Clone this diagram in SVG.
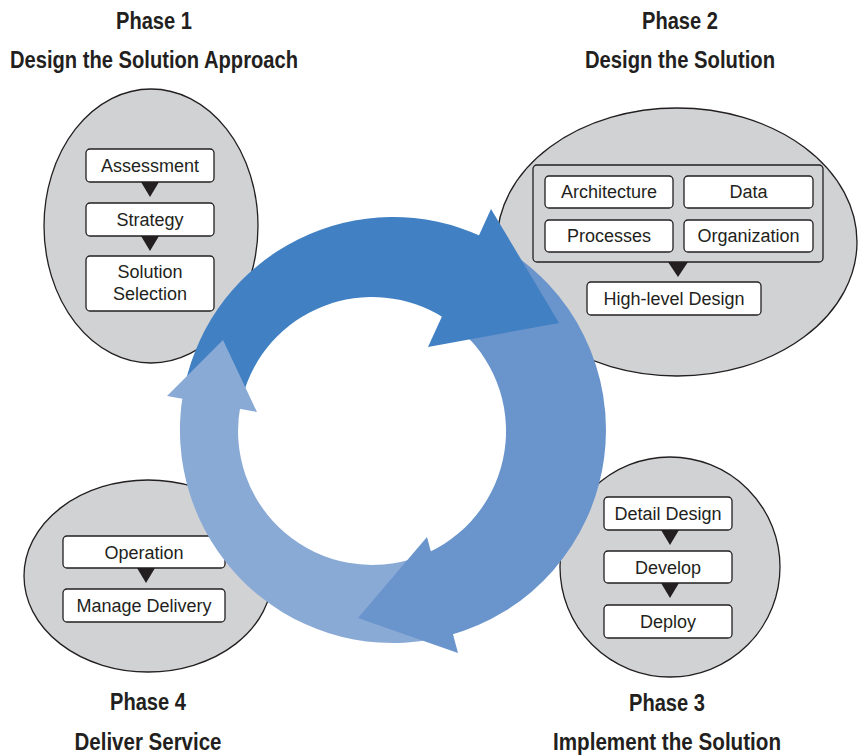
<svg xmlns="http://www.w3.org/2000/svg" width="864" height="756" viewBox="0 0 864 756">
<style>
.bg{fill:#ffffff}
.phase{fill:#D1D2D4;stroke:#231F20;stroke-width:1.3}
.box{fill:#ffffff;stroke:#231F20;stroke-width:1.3}
.grp{fill:#D1D2D4;stroke:#231F20;stroke-width:1.3}
.lbl{font-family:"Liberation Sans",Arial,sans-serif;font-size:18px;fill:#231F20;text-anchor:middle}
.ttl{font-family:"Liberation Sans",Arial,sans-serif;font-size:23px;font-weight:bold;fill:#231F20;text-anchor:middle}
.tri{fill:#231F20}
.dark{fill:#4180C2}
.mid{fill:#6A94CC}
.light{fill:#8AAAD6}
</style>
<rect class="bg" x="0" y="0" width="864" height="756"/>

<g id="phase1">
<text class="ttl" x="154" y="29" textLength="76" lengthAdjust="spacingAndGlyphs">Phase 1</text>
<text class="ttl" x="154" y="68" textLength="288" lengthAdjust="spacingAndGlyphs">Design the Solution Approach</text>
<ellipse class="phase" cx="151" cy="226" rx="107" ry="137"/>
<g id="assessment"><rect class="box" x="86" y="149" width="128" height="33" rx="4"/><text class="lbl" x="150" y="172">Assessment</text></g>
<g id="strategy"><rect class="box" x="86" y="203" width="128" height="33" rx="4"/><text class="lbl" x="150" y="226">Strategy</text></g>
<g id="solution-selection"><rect class="box" x="86" y="256" width="128" height="55" rx="4"/><text class="lbl" x="150" y="278">Solution</text><text class="lbl" x="150" y="300">Selection</text></g>
</g>

<g id="phase2">
<text class="ttl" x="680" y="29" textLength="76" lengthAdjust="spacingAndGlyphs">Phase 2</text>
<text class="ttl" x="680" y="68" textLength="190" lengthAdjust="spacingAndGlyphs">Design the Solution</text>
<ellipse class="phase" cx="677" cy="242" rx="180" ry="134"/>
<g id="design-areas"><rect class="grp" x="533" y="165" width="290" height="97" rx="4"/></g>
<g id="architecture"><rect class="box" x="545" y="176" width="128" height="32" rx="4"/><text class="lbl" x="609" y="198">Architecture</text></g>
<g id="data"><rect class="box" x="684" y="176" width="129" height="32" rx="4"/><text class="lbl" x="748.5" y="198">Data</text></g>
<g id="processes"><rect class="box" x="545" y="220" width="128" height="32" rx="4"/><text class="lbl" x="609" y="242">Processes</text></g>
<g id="organization"><rect class="box" x="684" y="220" width="129" height="32" rx="4"/><text class="lbl" x="748.5" y="242">Organization</text></g>
<g id="high-level-design"><rect class="box" x="587" y="282" width="174" height="33" rx="4"/><text class="lbl" x="674" y="305">High-level Design</text></g>
</g>

<g id="phase3">
<text class="ttl" x="667" y="711" textLength="76" lengthAdjust="spacingAndGlyphs">Phase 3</text>
<text class="ttl" x="667" y="750" textLength="228" lengthAdjust="spacingAndGlyphs">Implement the Solution</text>
<ellipse class="phase" cx="670" cy="567" rx="110" ry="110"/>
<g id="detail-design"><rect class="box" x="604" y="497" width="128" height="33" rx="4"/><text class="lbl" x="668" y="520">Detail Design</text></g>
<g id="develop"><rect class="box" x="604" y="551" width="128" height="32" rx="4"/><text class="lbl" x="668" y="573.5">Develop</text></g>
<g id="deploy"><rect class="box" x="604" y="605" width="128" height="33" rx="4"/><text class="lbl" x="668" y="628">Deploy</text></g>
</g>

<g id="phase4">
<text class="ttl" x="148" y="710" textLength="76" lengthAdjust="spacingAndGlyphs">Phase 4</text>
<text class="ttl" x="148" y="750" textLength="147" lengthAdjust="spacingAndGlyphs">Deliver Service</text>
<ellipse class="phase" cx="148" cy="576" rx="124" ry="96"/>
<g id="operation"><rect class="box" x="63" y="536" width="162" height="32" rx="4"/><text class="lbl" x="144" y="558.5">Operation</text></g>
<g id="manage-delivery"><rect class="box" x="63" y="589" width="162" height="33" rx="4"/><text class="lbl" x="144" y="612">Manage Delivery</text></g>
</g>

<g id="connectors">
<polygon class="tri" points="141,182 159,182 150,197"/>
<polygon class="tri" points="141,236 159,236 150,251"/>
<polygon class="tri" points="668,262 688,262 678,277"/>
<polygon class="tri" points="661,530 679,530 670,545"/>
<polygon class="tri" points="661,583 679,583 670,598"/>
<polygon class="tri" points="137,568 155,568 146,583"/>
</g>

<g id="cycle">
<path class="dark" d="M184.7,385.7 A213,213 0 0 1 483.0,237.0 L444.0,318.0 A134,134 0 0 0 242.6,396.3 Z"/>
<path class="mid" d="M499.5,245.5 A213,213 0 0 1 448.1,635.7 L429.1,552.2 A134,134 0 0 0 448.9,321.2 Z"/>
<path class="light" d="M430.0,639.8 A213,213 0 0 1 183.2,393.0 L240.5,405.4 A134,134 0 0 0 417.8,556.9 Z"/>
<polygon class="dark" points="491,209 559,323 428,347"/>
<polygon class="mid" points="427,537 358,618 458,653"/>
<polygon class="light" points="167,396 223,340 257,412"/>
</g>
</svg>
